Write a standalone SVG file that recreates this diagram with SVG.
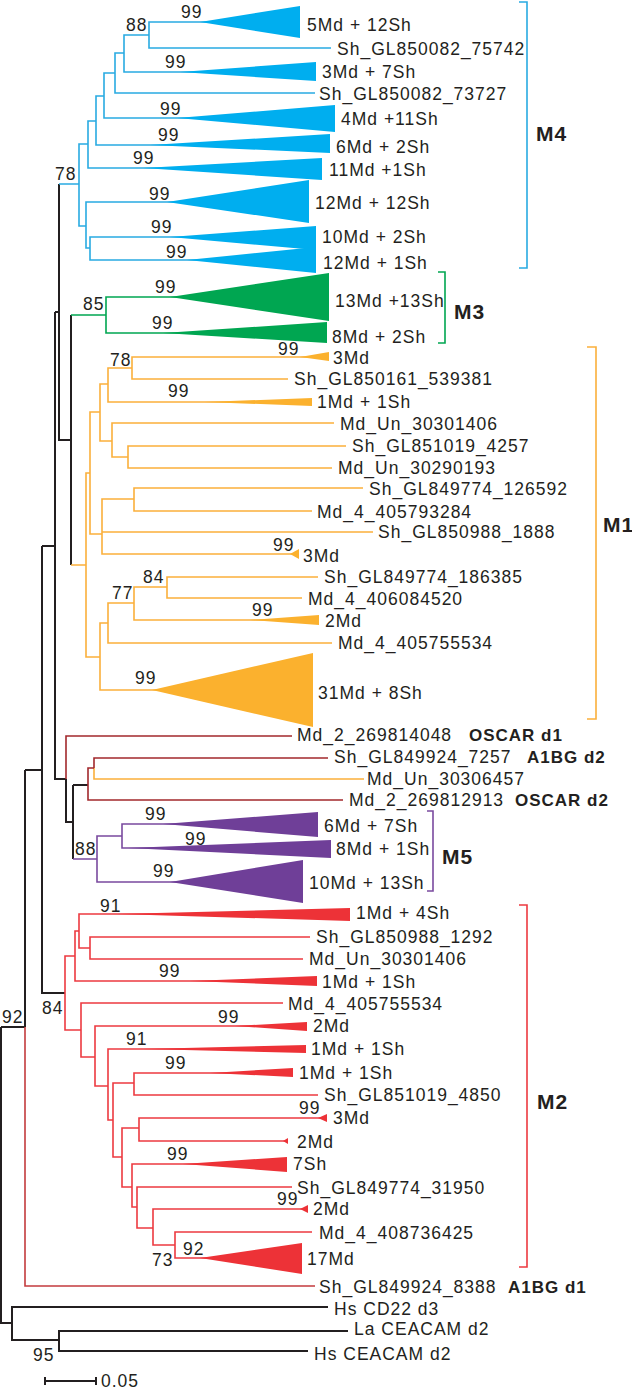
<svg xmlns="http://www.w3.org/2000/svg" width="632" height="1390" viewBox="0 0 632 1390">
<style>
text{font-family:"Liberation Sans",Arial,sans-serif;font-size:17.5px;letter-spacing:1px;fill:#231f20}
.b{font-weight:bold;font-size:17px}
.g{font-weight:bold;font-size:21px}
path{fill:none;stroke-width:1.6;stroke-linejoin:miter}
.k{stroke:#231f20;stroke-width:2}
.cb{stroke:#29abe2}.fb{fill:#00aeef}
.cg{stroke:#00a651}.fg{fill:#00a651}
.co{stroke:#fbb03b}.fo{fill:#fbb12e}
.cp{stroke:#7a4a9f}.fp{fill:#6f3f98}
.cr{stroke:#ed3a40}.fr{fill:#ed3237}
.cm{stroke:#a2282c}
.ca{stroke:#c33b3e}
</style>
<g id="connectors">
<path class="k" d="M59,184V440H71M55,312H59M71,315V565M55,312V779H66M42,546H55M42,546V993H65M25,770H42M25,770V1027M1,1027H25M1,1027V1323H12M328,1307H12V1340H59M348,1331H59V1351H308M66,779V822H73M73,785V859M73,785H88M45,1381H96M45,1377V1385M96,1377V1385"/>
<path class="cb" d="M59,184H79M88,144H79V226H86M96,121H88V168H322M104,96H96V145H330M115,73H104V118H335M124,53H115V93H315M149,35H124V72H316M300,22H149V48H331M309,202H86V248H90M316,237H90V260H316"/>
<path class="cg" d="M71,315H106M329,297H106V333H327"/>
<path class="co" d="M71,565H86M90,473H86V657H100M100,412H90V534H102M108,384H100V441H112M132,368H108V402H312M329,357H132V379H288M334,423H112V457H128M346,446H128V468H332M134,499H102V554H299M102,532H373M363,488H134V511H312M108,623H100V690H313M134,603H108V643H332M167,587H134V620H319M318,577H167V598H302M94,768V779H364"/>
<path class="cm" d="M292,736H66V779M94,768H88V800H343M94,768V758H328"/>
<path class="ca" d="M25,1027V1286H315"/>
<path class="cp" d="M73,859H97M122,836H97V882H303M318,824H122V848H331"/>
<path class="cr" d="M75,956H65V1030H81M79,931H75V981H317M350,914H79V948H90M310,937H90V959H303M283,1003H81V1057H95M307,1026H95V1086H108M306,1049H108V1120H113M134,1083H113V1157H122M293,1073H134V1095H318M139,1128H122V1187H132M327,1118H139V1141H288M287,1164H132V1207H137M292,1187H137V1228H153M308,1209H153V1245H175M312,1232H175V1258H302"/>
</g>
<g id="bootstrap">
<text x="181" y="18">99</text><text x="126" y="31">88</text><text x="165" y="68">99</text><text x="160" y="115">99</text><text x="158" y="141">99</text><text x="133" y="164">99</text><text x="55" y="180">78</text><text x="149" y="200">99</text><text x="151" y="233">99</text><text x="166" y="258">99</text>
<text x="155" y="293">99</text><text x="83" y="310">85</text><text x="152" y="329">99</text>
<text x="278" y="355">99</text><text x="110" y="366">78</text><text x="168" y="397">99</text><text x="273" y="551">99</text><text x="143" y="583">84</text><text x="112" y="599">77</text><text x="252" y="616">99</text><text x="135" y="684">99</text>
<text x="145" y="820">99</text><text x="185" y="845">99</text><text x="75" y="855">88</text><text x="153" y="877">99</text>
<text x="100" y="912">91</text><text x="159" y="977">99</text><text x="42" y="1014">84</text><text x="2" y="1023">92</text><text x="218" y="1023">99</text><text x="126" y="1045">91</text><text x="165" y="1069">99</text><text x="299" y="1114">99</text><text x="167" y="1160">99</text><text x="277" y="1205">99</text><text x="183" y="1255">92</text><text x="152" y="1266">73</text><text x="33" y="1361">95</text>
</g>
<g id="M4">
<polygon class="fb" points="200,22 300,6 300,38"/><text x="307" y="31">5Md + 12Sh</text>
<text x="337" y="55">Sh_GL850082_75742</text>
<polygon class="fb" points="180,72 316,62 316,81"/><text x="322" y="78">3Md + 7Sh</text>
<text x="319" y="100">Sh_GL850082_73727</text>
<polygon class="fb" points="177,118 335,105 335,132"/><text x="341" y="125">4Md +11Sh</text>
<polygon class="fb" points="150,145 330,134 330,153"/><text x="336" y="153">6Md + 2Sh</text>
<polygon class="fb" points="143,168 322,158 322,180"/><text x="329" y="176">11Md +1Sh</text>
<polygon class="fb" points="167,202 309,180 309,223"/><text x="315" y="209">12Md + 12Sh</text>
<polygon class="fb" points="170,237 316,226 316,250"/><text x="322" y="243">10Md + 2Sh</text>
<polygon class="fb" points="187,260 316,247 316,273"/><text x="323" y="269">12Md + 1Sh</text>
<path class="cb" stroke-width="2" d="M519,2H527V268H519"/><text class="g" x="536" y="141">M4</text>
</g>
<g id="M3">
<polygon class="fg" points="170,297 329,273 329,321"/><text x="335" y="307">13Md +13Sh</text>
<polygon class="fg" points="163,333 327,322 327,343"/><text x="332" y="343">8Md + 2Sh</text>
<path class="cg" stroke-width="2" d="M438,272H445V343H438"/><text class="g" x="454" y="319">M3</text>
</g>
<g id="M1">
<polygon class="fo" points="300,357 329,352 329,361"/><text x="333" y="364">3Md</text>
<text x="294" y="385">Sh_GL850161_539381</text>
<polygon class="fo" points="205,402 312,398 312,406"/><text x="317" y="408">1Md + 1Sh</text>
<text x="340" y="430">Md_Un_30301406</text>
<text x="352" y="452">Sh_GL851019_4257</text>
<text x="338" y="474">Md_Un_30290193</text>
<text x="369" y="495">Sh_GL849774_126592</text>
<text x="317" y="518">Md_4_405793284</text>
<text x="378" y="538">Sh_GL850988_1888</text>
<polygon class="fo" points="290,554 299,549 299,559"/><text x="303" y="562">3Md</text>
<text x="324" y="583">Sh_GL849774_186385</text>
<text x="308" y="605">Md_4_406084520</text>
<polygon class="fo" points="250,620 319,615 319,625"/><text x="325" y="627">2Md</text>
<text x="338" y="649">Md_4_405755534</text>
<polygon class="fo" points="152,690 313,653 313,727"/><text x="318" y="699">31Md + 8Sh</text>
<path class="co" stroke-width="2" d="M587,347H596V719H587"/><text class="g" x="603" y="532">M1</text>
</g>
<g id="OSCAR_A1BG">
<text x="297" y="741">Md_2_269814048</text><text class="b" x="469" y="741">OSCAR d1</text>
<text x="334" y="763">Sh_GL849924_7257</text><text class="b" x="527" y="763">A1BG d2</text>
<text x="367" y="785">Md_Un_30306457</text>
<text x="349" y="806">Md_2_269812913</text><text class="b" x="515" y="806">OSCAR d2</text>
</g>
<g id="M5">
<polygon class="fp" points="163,824 318,812 318,837"/><text x="324" y="832">6Md + 7Sh</text>
<polygon class="fp" points="128,848 331,840 331,858"/><text x="336" y="855">8Md + 1Sh</text>
<polygon class="fp" points="170,882 303,860 303,903"/><text x="309" y="889">10Md + 13Sh</text>
<path class="cp" stroke-width="2" d="M427,811H433V891H427"/><text class="g" x="442" y="864">M5</text>
</g>
<g id="M2">
<polygon class="fr" points="117,914 350,908 350,921"/><text x="356" y="919">1Md + 4Sh</text>
<text x="316" y="943">Sh_GL850988_1292</text>
<text x="309" y="965">Md_Un_30301406</text>
<polygon class="fr" points="190,981 317,976 317,986"/><text x="322" y="988">1Md + 1Sh</text>
<text x="288" y="1010">Md_4_405755534</text>
<polygon class="fr" points="235,1026 307,1022 307,1031"/><text x="313" y="1032">2Md</text>
<polygon class="fr" points="143,1049 306,1045 306,1053"/><text x="311" y="1055">1Md + 1Sh</text>
<polygon class="fr" points="210,1073 293,1068 293,1077"/><text x="299" y="1079">1Md + 1Sh</text>
<text x="324" y="1101">Sh_GL851019_4850</text>
<polygon class="fr" points="318,1118 327,1114 327,1122"/><text x="333" y="1124">3Md</text>
<polygon class="fr" points="283,1141 288,1138 288,1144"/><text x="297" y="1148">2Md</text>
<polygon class="fr" points="183,1164 287,1157 287,1172"/><text x="293" y="1170">7Sh</text>
<text x="297" y="1194">Sh_GL849774_31950</text>
<polygon class="fr" points="300,1209 308,1205 308,1213"/><text x="313" y="1215">2Md</text>
<text x="319" y="1239">Md_4_408736425</text>
<polygon class="fr" points="200,1258 302,1243 302,1274"/><text x="307" y="1265">17Md</text>
<path class="cr" stroke-width="2" d="M519,905H527V1267H519"/><text class="g" x="537" y="1109">M2</text>
</g>
<g id="outgroup">
<text x="319" y="1293">Sh_GL849924_8388</text><text class="b" x="508" y="1293">A1BG d1</text>
<text x="334" y="1315">Hs CD22 d3</text>
<text x="354" y="1335">La CEACAM d2</text>
<text x="314" y="1360">Hs CEACAM d2</text>
</g>
<g id="scale"><text x="101" y="1387">0.05</text></g>
</svg>
